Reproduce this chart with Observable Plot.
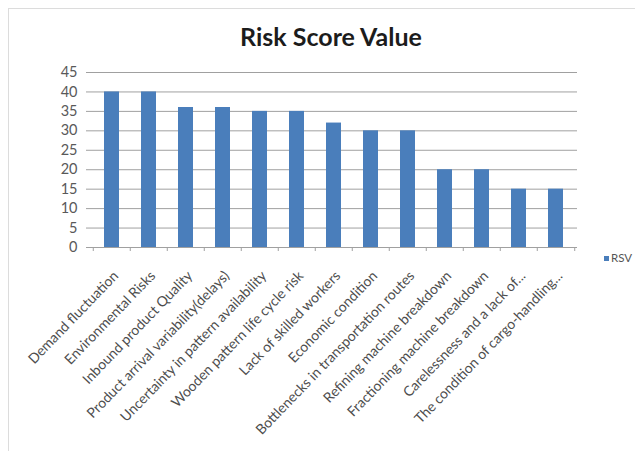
<!DOCTYPE html>
<html><head><meta charset="utf-8">
<script src="https://cdn.jsdelivr.net/npm/d3@7"></script>
<script src="https://cdn.jsdelivr.net/npm/@observablehq/plot@0.6"></script>
<style>
body{margin:0;background:#fff;}
#wrap{position:relative;width:635px;height:451px;overflow:hidden;font-family:Lato,"Open Sans",sans-serif;}
#frame{position:absolute;left:8px;top:8px;width:700px;height:500px;border:1px solid #dcdcdc;box-sizing:border-box;}
#title{position:absolute;left:0;width:662px;top:21px;text-align:center;font-weight:bold;font-size:25px;line-height:30px;color:#1c1c1c;}
#legend{position:absolute;left:604px;top:251px;font-size:11.5px;line-height:14px;color:#555;display:flex;align-items:center;gap:2px;white-space:nowrap;}
#legend span.sw{display:inline-block;width:5px;height:5px;background:#4a7ebb;}
#chart{position:absolute;left:0;top:0;}
</style></head>
<body><div id="wrap"><div id="frame"></div><div id="chart"></div><div id="title">Risk Score Value</div><div id="legend"><span class="sw"></span><span>RSV</span></div></div>
<script>
const categories = ["Demand fluctuation","Environmental Risks","Inbound product Quality","Product arrival variability(delays)","Uncertainty in pattern availability","Wooden pattern life cycle risk","Lack of skilled workers","Economic condition","Bottlenecks in transportation routes","Refining machine breakdown","Fractioning machine breakdown","Carelessness and a lack of...","The condition of cargo-handling..."];
const values = [40,40,36,36,35,35,32,30,30,20,20,15,15];
const yTicks = [0,5,10,15,20,25,30,35,40,45];
const seriesName = "RSV";

const data = categories.map((c,i)=>({category:c, value:values[i]}));
const W = 635, H = 451, mL = 90, mR = 58, mT = 72, mB = 204;
const step = (W - mL - mR) / categories.length;
const grid = "#a0a0a0";

const chart = Plot.plot({
  width: W, height: H,
  marginLeft: mL, marginRight: mR, marginTop: mT, marginBottom: mB,
  style: {fontFamily: "Lato, 'Open Sans', sans-serif", background: "transparent"},
  x: {domain: categories, paddingInner: 0.6, paddingOuter: 0.3, label: null},
  y: {domain: [0,45], label: null},
  marks: [
    Plot.ruleY(yTicks.filter(d=>d>0), {stroke: grid, strokeWidth: 1}),
    Plot.barY(data, {x: "category", y: "value", fill: "#4a7ebb"}),
    Plot.ruleY([0], {stroke: grid}),
    Plot.axisX({tickSize: 4, tickFormat: () => "", dx: -step/2, stroke: grid}),
    Plot.axisX({ticks: [categories[categories.length-1]], tickSize: 4, tickFormat: () => "", dx: step/2, stroke: grid}),
    Plot.axisY({ticks: yTicks, tickSize: 4, tickPadding: 9, fontSize: 14.5, color: "#595959", stroke: grid}),
    Plot.ruleX([0], {frameAnchor: "left", stroke: grid}),
    Plot.axisX({tickSize: 0, tickPadding: 26, dx: 4, tickRotate: -46, fontSize: 14, color: "#4d4d4d", textAnchor: "end"})
  ]
});
document.getElementById("chart").appendChild(chart);
</script></body></html>
